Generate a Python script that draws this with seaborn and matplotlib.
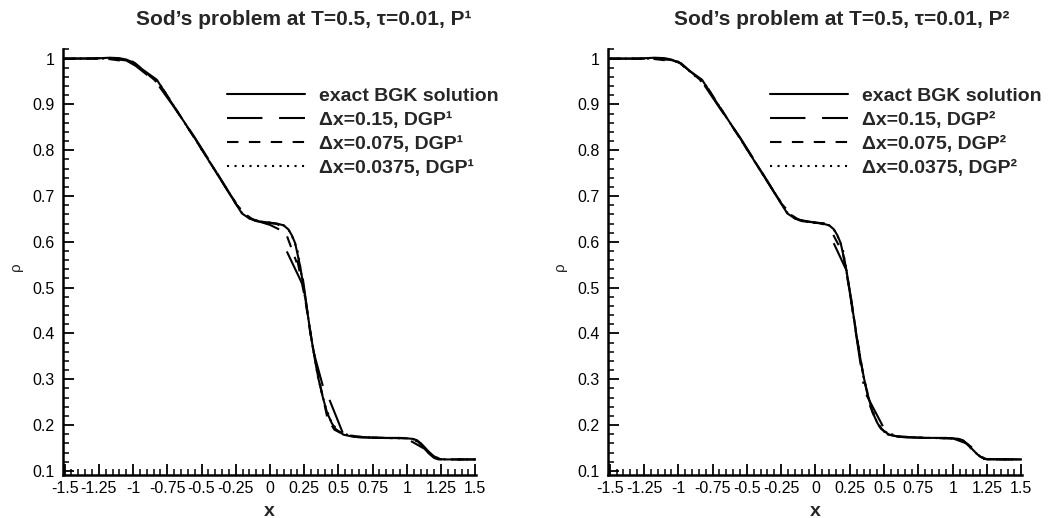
import numpy as np
import pandas as pd
import matplotlib
matplotlib.use("Agg")
import matplotlib.pyplot as plt
import seaborn as sns
from matplotlib.lines import Line2D
from matplotlib.ticker import FixedLocator, MultipleLocator

nan = np.nan

# ---------------- data ----------------
exact_x = [-1.5, -1.3, -1.17, -1.1, -1.05, -0.985, -0.93, -0.827, -0.7, -0.559, -0.413,
           -0.291, -0.205, -0.15, -0.096, -0.03, 0.05, 0.1, 0.135, 0.16, 0.184, 0.221,
           0.257, 0.299, 0.33, 0.355, 0.385, 0.416, 0.45, 0.477, 0.537, 0.6, 0.659, 0.8,
           0.95, 1.0, 1.04, 1.074, 1.11, 1.147, 1.18, 1.208, 1.24, 1.268, 1.35, 1.5]
exact_y = [1.0, 1.0, 1.002, 1.001, 0.998, 0.99, 0.976, 0.954, 0.895, 0.831, 0.761,
           0.703, 0.662, 0.651, 0.645, 0.643, 0.640, 0.636, 0.627, 0.614, 0.597, 0.546,
           0.480, 0.395, 0.34, 0.300, 0.262, 0.228, 0.205, 0.192, 0.179, 0.175, 0.173, 0.172,
           0.172, 0.171, 0.170, 0.167, 0.158, 0.146, 0.136, 0.130, 0.126, 0.125, 0.125, 0.125]

# P1, dx = 0.15  (nan separates DG cell pieces)
p1_015_x = [-1.5, -1.2, -1.05, -0.98, -0.9, -0.83, -0.7, -0.55, -0.4, -0.29, -0.2, -0.12, 0.0,
            0.075, 0.096, nan, 0.123, 0.233, nan, 0.24, 0.27, 0.305, nan, 0.318, 0.391, nan,
            0.435, 0.537, 0.6, 0.8, 1.0, 1.02, nan, 1.03, 1.13, 1.16, 1.2, 1.23, 1.5]
p1_015_y = [1.0, 1.001, 0.996, 0.984, 0.965, 0.948, 0.894, 0.828, 0.757, 0.703, 0.664, 0.648, 0.637,
            0.626, 0.608, nan, 0.579, 0.510, nan, 0.52, 0.455, 0.385, nan, 0.360, 0.280, nan,
            0.255, 0.179, 0.175, 0.172, 0.171, 0.168, nan, 0.165, 0.148, 0.138, 0.128, 0.125, 0.125]

# P1, dx = 0.075
p1_0075_x = [-1.5, -1.2, -1.0, -0.9, -0.8, -0.6, -0.4, -0.25, -0.15, -0.05, 0.05, 0.12, nan,
             0.125, 0.195, nan, 0.2, 0.26, 0.3, nan, 0.31, 0.36, nan, 0.365, 0.42, 0.47, 0.54,
             0.7, 1.0, 1.08, 1.15, 1.2, 1.25, 1.5]
p1_0075_y = [1.0, 1.0, 0.992, 0.968, 0.942, 0.849, 0.756, 0.683, 0.651, 0.643, 0.639, 0.628, nan,
             0.612, 0.555, nan, 0.56, 0.47, 0.39, nan, 0.375, 0.30, nan, 0.29, 0.215, 0.19, 0.179,
             0.173, 0.171, 0.164, 0.143, 0.13, 0.125, 0.125]

# P1, dx = 0.0375
p1_00375_x = [-1.5, -1.2, -1.1, -1.0, -0.9, -0.8, -0.6, -0.4, -0.3, -0.2, -0.1, 0.0, 0.1, 0.15,
              0.2, 0.25, 0.3, 0.35, 0.4, 0.45, 0.5, 0.6, 0.8, 1.0, 1.05, 1.1, 1.15, 1.2, 1.25,
              1.3, 1.5]
p1_00375_y = [1.0, 1.0, 1.0, 0.993, 0.968, 0.942, 0.849, 0.755, 0.708, 0.661, 0.645, 0.642, 0.636,
              0.621, 0.583, 0.49, 0.393, 0.305, 0.245, 0.205, 0.186, 0.175, 0.172, 0.171, 0.169,
              0.16, 0.144, 0.131, 0.126, 0.125, 0.125]

# P2, dx = 0.15
p2_015_x = [-1.5, -1.2, -1.05, -0.98, -0.9, -0.83, -0.7, -0.55, -0.4, -0.3, -0.2, -0.12, 0.0,
            0.08, 0.1, nan, 0.133, 0.23, nan, 0.235, 0.29, 0.35, nan, 0.371, 0.504, nan,
            0.52, 0.6, 0.8, 1.0, 1.1, 1.206, nan, 1.22, 1.5]
p2_015_y = [1.0, 1.0, 0.997, 0.99, 0.969, 0.951, 0.893, 0.828, 0.757, 0.708, 0.663, 0.648, 0.642,
            0.640, 0.625, nan, 0.597, 0.535, nan, 0.52, 0.41, 0.29, nan, 0.266, 0.19, nan,
            0.18, 0.175, 0.172, 0.171, 0.16, 0.137, nan, 0.126, 0.125]

# P2, dx = 0.075
p2_0075_x = [-1.5, -1.2, -1.0, -0.9, -0.8, -0.6, -0.4, -0.25, -0.15, -0.05, 0.05, 0.12, nan,
             0.13, 0.2, 0.26, 0.3, 0.35, 0.4, 0.45, 0.5, 0.6, 0.8, 1.0, 1.08, 1.15, 1.2, 1.25, 1.5]
p2_0075_y = [1.0, 1.0, 0.993, 0.969, 0.943, 0.849, 0.756, 0.684, 0.651, 0.643, 0.640, 0.630, nan,
             0.615, 0.575, 0.475, 0.395, 0.305, 0.24, 0.203, 0.186, 0.175, 0.172, 0.171, 0.165,
             0.145, 0.131, 0.125, 0.125]

# P2, dx = 0.0375
p2_00375_x = [-1.5, -1.2, -1.1, -1.0, -0.9, -0.8, -0.6, -0.4, -0.3, -0.2, -0.1, 0.0, 0.1, 0.15,
              0.2, 0.25, 0.3, 0.35, 0.4, 0.45, 0.5, 0.6, 0.8, 1.0, 1.05, 1.1, 1.15, 1.2, 1.25,
              1.3, 1.5]
p2_00375_y = [1.0, 1.0, 1.0, 0.993, 0.968, 0.942, 0.849, 0.755, 0.708, 0.661, 0.645, 0.642, 0.636,
              0.621, 0.583, 0.49, 0.393, 0.305, 0.245, 0.205, 0.186, 0.175, 0.172, 0.171, 0.169,
              0.16, 0.144, 0.131, 0.126, 0.125, 0.125]

x_ticks = [-1.5, -1.25, -1.0, -0.75, -0.5, -0.25, 0.0, 0.25, 0.5, 0.75, 1.0, 1.25, 1.5]
x_tick_labels = ["-1.5", "-1.25", "-1", "-0.75", "-0.5", "-0.25", "0", "0.25", "0.5", "0.75",
                 "1", "1.25", "1.5"]
y_ticks = [0.1, 0.2, 0.3, 0.4, 0.5, 0.6, 0.7, 0.8, 0.9, 1.0]
y_tick_labels = ["0.1", "0.2", "0.3", "0.4", "0.5", "0.6", "0.7", "0.8", "0.9", "1"]

series_names = ["exact", "dx015", "dx0075", "dx00375"]
labels_p1 = ["exact BGK solution", "\u0394x=0.15, DGP\u00b9", "\u0394x=0.075, DGP\u00b9",
             "\u0394x=0.0375, DGP\u00b9"]
labels_p2 = ["exact BGK solution", "\u0394x=0.15, DGP\u00b2", "\u0394x=0.075, DGP\u00b2",
             "\u0394x=0.0375, DGP\u00b2"]
titles = ["Sod\u2019s problem at T=0.5, \u03c4=0.01, P\u00b9",
          "Sod\u2019s problem at T=0.5, \u03c4=0.01, P\u00b2"]

# ---------------- style ----------------
sns.set_theme(style="ticks")
plt.rcParams['font.family'] = ['Liberation Sans', 'DejaVu Sans']
plt.rcParams['axes.linewidth'] = 1.8

dash_map = {"exact": "", "dx015": (17, 8), "dx0075": (5.5, 5.0), "dx00375": (1.0, 2.6)}
LW = 1.5


def make_frame(pairs):
    frames = []
    for name, (xs, ys) in zip(series_names, pairs):
        xs = np.asarray(xs, float)
        ys = np.asarray(ys, float)
        seg = np.cumsum(np.isnan(ys))
        keep = ~np.isnan(ys)
        frames.append(pd.DataFrame({"x": xs[keep], "rho": ys[keep], "series": name,
                                    "seg": [f"{name}_{s}" for s in seg[keep]]}))
    return pd.concat(frames, ignore_index=True)


panels = [
    make_frame([(exact_x, exact_y), (p1_015_x, p1_015_y), (p1_0075_x, p1_0075_y),
                (p1_00375_x, p1_00375_y)]),
    make_frame([(exact_x, exact_y), (p2_015_x, p2_015_y), (p2_0075_x, p2_0075_y),
                (p2_00375_x, p2_00375_y)]),
]

fig = plt.figure(figsize=(10.62, 5.18), dpi=100)
ax_rects = [[63 / 1062, 43 / 518, 413 / 1062, 426 / 518],
            [608 / 1062, 43 / 518, 414 / 1062, 426 / 518]]
legend_anchor = [(227 / 1062, 1 - 87 / 518), (770 / 1062, 1 - 87 / 518)]
title_x = [0.584, 0.565]

for i, df in enumerate(panels):
    ax = fig.add_axes(ax_rects[i])
    sns.lineplot(data=df, x="x", y="rho", hue="series", style="series", units="seg",
                 estimator=None, sort=False, palette={k: "black" for k in series_names},
                 dashes=dash_map, linewidth=LW, legend=False, ax=ax)
    ax.set_xlim(-1.512, 1.505)
    ax.set_ylim(0.091, 1.021)
    sns.despine(ax=ax)
    ax.xaxis.set_major_locator(FixedLocator(x_ticks))
    ax.set_xticklabels(x_tick_labels)
    ax.yaxis.set_major_locator(FixedLocator(y_ticks))
    ax.set_yticklabels(y_tick_labels)
    ax.xaxis.set_minor_locator(MultipleLocator(0.05))
    ax.yaxis.set_minor_locator(MultipleLocator(0.02))
    ax.tick_params(which="major", direction="in", length=8, width=1.3, labelsize=11.5,
                   color="black", labelcolor="black")
    ax.tick_params(which="minor", direction="in", length=4, width=1.1, color="black")
    ax.tick_params(axis="y", which="major", pad=6)
    ax.tick_params(axis="x", which="major", pad=4.5)
    for s in ("left", "bottom"):
        ax.spines[s].set_color("black")

    ax.set_xlabel("x", fontsize=14, fontweight="bold")
    ax.xaxis.set_label_coords(0.5, -0.085)
    ax.xaxis.label.set_va("center")
    ax.set_ylabel("\u03c1", fontsize=11)
    ax.yaxis.set_label_coords(-0.115, 0.488)
    ax.yaxis.label.set_va("center")

    ax.set_title(titles[i], fontsize=15, fontweight="bold", x=title_x[i], pad=17)

    labels = labels_p1 if i == 0 else labels_p2
    handles = []
    for name in series_names:
        h = Line2D([], [], color="black", linewidth=LW)
        if dash_map[name]:
            h.set_dashes(dash_map[name])
        handles.append(h)
    ax.legend(handles, labels, loc="upper left", bbox_to_anchor=legend_anchor[i],
              bbox_transform=fig.transFigure, frameon=False, borderpad=0,
              borderaxespad=0, handlelength=4.0, handletextpad=0.75,
              labelspacing=0.33, prop={"size": 14, "weight": "bold"})

fig.savefig("out.png", dpi=100)
